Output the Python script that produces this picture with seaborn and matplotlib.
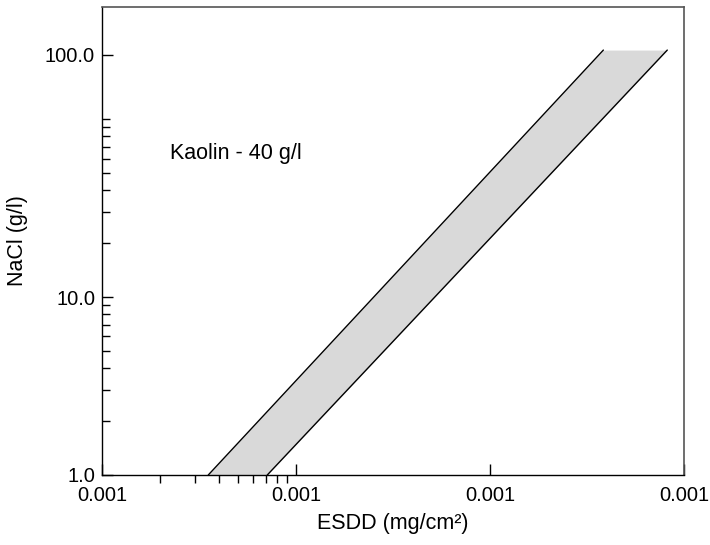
import numpy as np
import seaborn as sns
import matplotlib.pyplot as plt
from matplotlib.ticker import FixedLocator, NullFormatter

# Band limits
nacl = [1.0, 244.0]
esdd_low = [0.00353, 0.384]
esdd_high = [0.00711, 0.820]

x_ticks = [0.001, 0.01, 0.1, 1.0]
x_tick_labels = ["0.001", "0.001", "0.001", "0.001"]
y_ticks = [1.0, 10.0, 230.0]
y_tick_labels = ["1.0", "10.0", "100.0"]

sns.set_theme(style="ticks")
plt.rcParams["font.family"] = ["Liberation Sans", "DejaVu Sans"]
plt.rcParams["text.color"] = "black"
plt.rcParams["axes.labelcolor"] = "black"
plt.rcParams["xtick.color"] = "black"
plt.rcParams["ytick.color"] = "black"

fig = plt.figure(figsize=(7.1, 5.45), dpi=100)
ax = fig.add_axes([102 / 710, 1 - 475 / 545, 582 / 710, 468 / 545])

ax.fill_betweenx(nacl, esdd_low, esdd_high, color="#d9d9d9", linewidth=0)
sns.lineplot(x=esdd_low, y=nacl, ax=ax, color="black", linewidth=1, sort=False)
sns.lineplot(x=esdd_high, y=nacl, ax=ax, color="black", linewidth=1, sort=False)

ax.set_xscale("log")
ax.set_yscale("log")
ax.set_xlim(0.001, 1.0)
ax.set_ylim(1.0, 426)

ax.xaxis.set_major_locator(FixedLocator(x_ticks))
ax.set_xticklabels(x_tick_labels)
ax.xaxis.set_minor_locator(FixedLocator([0.002, 0.003, 0.004, 0.005, 0.006, 0.007, 0.008, 0.009]))
ax.xaxis.set_minor_formatter(NullFormatter())

ax.yaxis.set_major_locator(FixedLocator(y_ticks))
ax.set_yticklabels(y_tick_labels)
ax.yaxis.set_minor_locator(FixedLocator([2, 3, 4, 5, 6, 7, 8, 9, 20, 30, 40, 50, 60, 70, 80, 90, 100]))
ax.yaxis.set_minor_formatter(NullFormatter())

ax.tick_params(axis="x", which="major", direction="in", length=8, width=1, labelsize=14.5, pad=8)
ax.tick_params(axis="x", which="minor", direction="out", length=6, width=1)
ax.tick_params(axis="y", which="major", direction="in", length=8, width=1, labelsize=14.5, pad=5)
ax.tick_params(axis="y", which="minor", direction="in", length=6, width=1)

for side in ["left", "bottom"]:
    ax.spines[side].set_color("black")
    ax.spines[side].set_linewidth(1)
for side in ["top", "right"]:
    ax.spines[side].set_visible(True)
    ax.spines[side].set_color("#555555")
    ax.spines[side].set_linewidth(1.2)

ax.set_xlabel("ESDD (mg/cm²)", fontsize=15.5, labelpad=6)
ax.set_ylabel("NaCl (g/l)", fontsize=15.5, labelpad=12)

ax.text(0.117, 0.688, "Kaolin - 40 g/l", transform=ax.transAxes,
        fontsize=15.5, ha="left", va="center")

fig.savefig("out.png", dpi=100)
